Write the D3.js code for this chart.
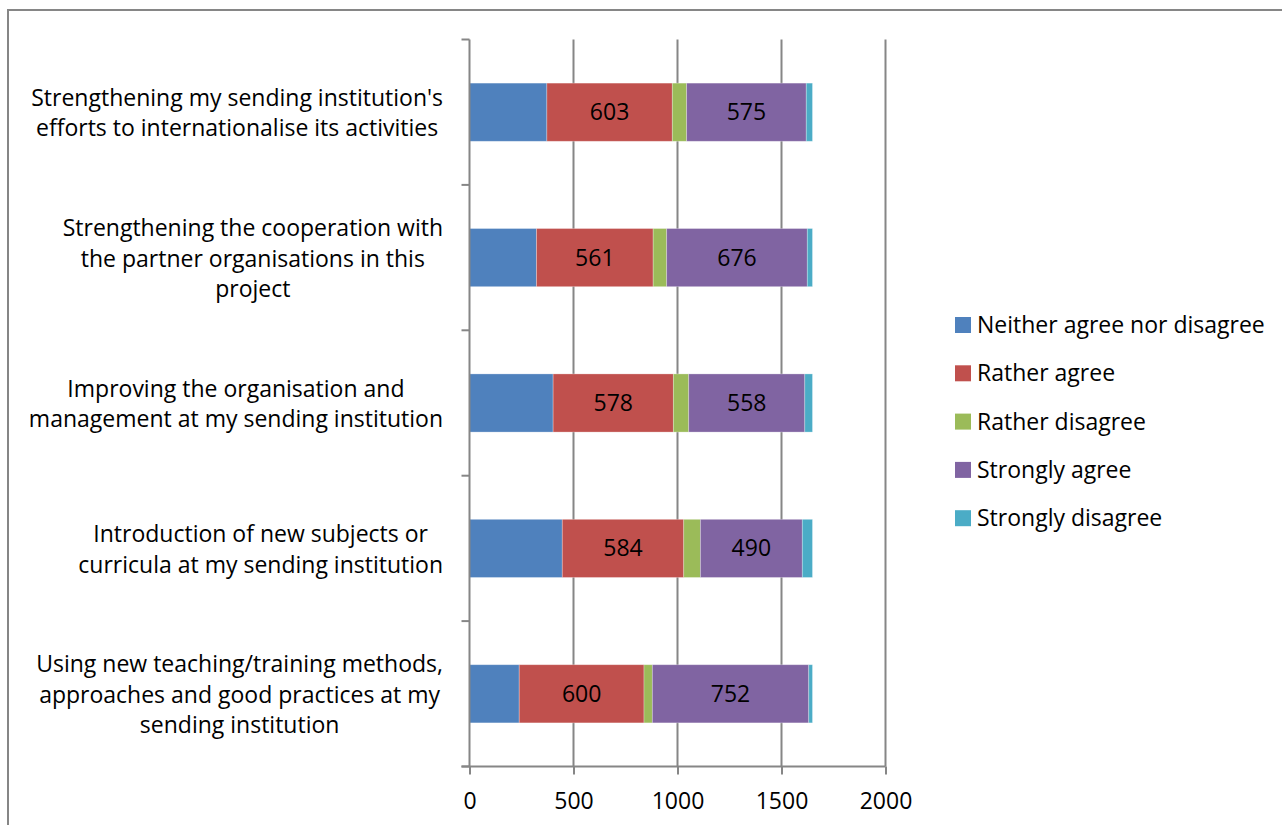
<!DOCTYPE html>
<html>
<head>
<meta charset="utf-8">
<script src="https://cdn.jsdelivr.net/npm/d3@7"></script>
<style>
  html, body { margin: 0; padding: 0; background: #fff; }
  svg { display: block; }
  text { font-family: "Open Sans", Lato, sans-serif; fill: #000; }
</style>
</head>
<body>
<script>
// Survey statements (top to bottom) and their wrapped label lines
const categories = [
  "Strengthening my sending institution's efforts to internationalise its activities",
  "Strengthening the cooperation with the partner organisations in this project",
  "Improving the organisation and management at my sending institution",
  "Introduction of new subjects or curricula at my sending institution",
  "Using new teaching/training methods, approaches and good practices at my sending institution"
];
const categoryLines = [
  ["Strengthening my sending institution's", "efforts to internationalise its activities"],
  ["Strengthening the cooperation with", "the partner organisations in this", "project"],
  ["Improving the organisation and", "management at my sending institution"],
  ["Introduction of new subjects or", "curricula at my sending institution"],
  ["Using new teaching/training methods,", "approaches and good practices at my", "sending institution"]
];

// Response series (stack order) and counts per statement
const seriesNames = ["Neither agree nor disagree", "Rather agree", "Rather disagree", "Strongly agree", "Strongly disagree"];
const neitherAgreeNorDisagree = [372, 322, 402, 446, 239];
const ratherAgree            = [603, 561, 578, 584, 600];
const ratherDisagree         = [69, 65, 74, 80, 40];
const stronglyAgree          = [575, 676, 558, 490, 752];
const stronglyDisagree       = [30, 25, 37, 49, 18];
const labelledSeries = ["Rather agree", "Strongly agree"];

const xTicks = [0, 500, 1000, 1500, 2000];
const colors = ["#4F81BD", "#C0504D", "#9BBB59", "#8064A2", "#4BACC6"];

const W = 1282, H = 825;
const FONT = "'Open Sans', Lato, sans-serif";
const FS = 23;
const svg = d3.select("body").append("svg").attr("width", W).attr("height", H);

// Build stacked table
const table = categories.map((c, i) => ({
  category: c,
  "Neither agree nor disagree": neitherAgreeNorDisagree[i],
  "Rather agree": ratherAgree[i],
  "Rather disagree": ratherDisagree[i],
  "Strongly agree": stronglyAgree[i],
  "Strongly disagree": stronglyDisagree[i]
}));
const stacked = d3.stack().keys(seriesNames)(table);

const x = d3.scaleLinear().domain([0, 2000]).range([469.5, 885.5]);
const y = d3.scaleBand().domain(categories).range([39.5, 766.5]).paddingInner(0.6).paddingOuter(0.3);
const color = d3.scaleOrdinal().domain(seriesNames).range(colors);
const gridColor = "#868686";

// Outer frame
svg.append("rect").attr("x", 8).attr("y", 10).attr("width", W + 20).attr("height", H + 20)
  .attr("fill", "none").attr("stroke", gridColor).attr("stroke-width", 2);

// Vertical gridlines
svg.append("g").selectAll("line").data(xTicks.slice(1)).join("line")
  .attr("x1", d => x(d)).attr("x2", d => x(d))
  .attr("y1", 39.5).attr("y2", 766.5)
  .attr("stroke", gridColor).attr("stroke-width", 2);

// Bars
const layers = svg.append("g").selectAll("g").data(stacked).join("g")
  .attr("fill", d => color(d.key));
layers.selectAll("rect").data(d => d).join("rect")
  .attr("x", d => x(d[0]))
  .attr("width", d => x(d[1]) - x(d[0]))
  .attr("y", d => y(d.data.category))
  .attr("height", y.bandwidth())
  .attr("stroke", "rgba(255,255,255,0.35)").attr("stroke-width", 0.8);

// Value labels on selected series
stacked.filter(s => labelledSeries.includes(s.key)).forEach(s => {
  svg.append("g").selectAll("text").data(s).join("text")
    .attr("x", d => (x(d[0]) + x(d[1])) / 2)
    .attr("y", d => y(d.data.category) + y.bandwidth() / 2 + 8)
    .attr("text-anchor", "middle")
    .attr("font-size", FS)
    .text(d => d[1] - d[0]);
});

// Category axis (left)
const yAxis = svg.append("g");
yAxis.append("line").attr("x1", 469.5).attr("x2", 469.5).attr("y1", 39.5).attr("y2", 766.5)
  .attr("stroke", gridColor).attr("stroke-width", 2);
const step = y.step();
const boundaries = d3.range(categories.length + 1).map(i => 39.5 + i * step);
yAxis.selectAll("line.tick").data(boundaries).join("line").attr("class", "tick")
  .attr("x1", 461.5).attr("x2", 469.5).attr("y1", d => d).attr("y2", d => d)
  .attr("stroke", gridColor).attr("stroke-width", 2);

// Category labels: centred blocks aligned to the right edge
const labelRight = 443;
const lineH = 30.5;
categories.forEach((c, i) => {
  const g = svg.append("g");
  const lines = categoryLines[i];
  const cy = y(c) + y.bandwidth() / 2;
  const texts = g.selectAll("text").data(lines).join("text")
    .attr("font-size", FS)
    .attr("text-anchor", "middle")
    .attr("y", (d, j) => cy + (j - (lines.length - 1) / 2) * lineH + 9)
    .text(d => d);
  const maxW = d3.max(texts.nodes(), n => n.getComputedTextLength());
  texts.attr("x", labelRight - maxW / 2);
});

// Value axis (bottom)
const xAxisG = svg.append("g").attr("transform", "translate(0,766.5)")
  .call(d3.axisBottom(x).tickValues(xTicks).tickSize(8).tickPadding(18).tickFormat(d3.format("d")));
xAxisG.select(".domain").attr("stroke", gridColor).attr("stroke-width", 2)
  .attr("d", "M461.5,0H885.5");
xAxisG.selectAll(".tick line").attr("stroke", gridColor).attr("stroke-width", 2);
xAxisG.selectAll(".tick text").attr("font-size", FS).attr("font-family", FONT).attr("fill", "#000");

// Legend
const legend = svg.append("g").attr("transform", "translate(955,325)");
const items = legend.selectAll("g").data(seriesNames).join("g")
  .attr("transform", (d, i) => `translate(0,${i * 48.3})`);
items.append("rect").attr("x", 0).attr("y", -8).attr("width", 16).attr("height", 16)
  .attr("fill", d => color(d));
items.append("text").attr("x", 22).attr("y", 8).attr("font-size", FS).text(d => d);
</script>
</body>
</html>
